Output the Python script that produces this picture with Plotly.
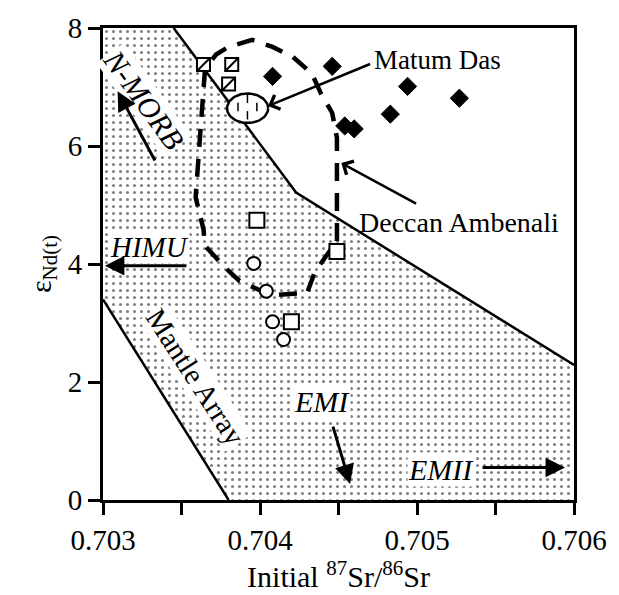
import numpy as np
import plotly.graph_objects as go

# ---------------- data ----------------
# Mantle array (stippled field) outline
mantle_x = [0.703, 0.70345, 0.70423, 0.706, 0.706, 0.7038, 0.703]
mantle_y = [8.0, 8.0, 5.21, 2.29, 0.0, 0.0, 3.4]
upper_edge_x = [0.70345, 0.70423, 0.706]
upper_edge_y = [8.0, 5.21, 2.29]
lower_edge_x = [0.703, 0.7038]
lower_edge_y = [3.4, 0.0]

# Deccan Ambenali field (dashed loop)
deccan_x = [0.70449, 0.70449, 0.70446, 0.70439, 0.70433, 0.70421, 0.70408, 0.70395,
            0.70380, 0.70372, 0.70365, 0.70364, 0.70362, 0.70359, 0.70364, 0.70365,
            0.70377, 0.70387, 0.70407, 0.70430, 0.70435, 0.70449]
deccan_y = [4.39, 6.14, 6.56, 6.88, 7.23, 7.51, 7.68, 7.80,
            7.68, 7.55, 7.31, 7.01, 6.23, 5.13, 4.59, 4.31,
            3.96, 3.71, 3.47, 3.51, 3.87, 4.39]

# Matum Das field (ellipse): centre and semi-axes
matum_center = [0.703921, 6.64]
matum_semi_axes = [0.000131, 0.25]
matum_marks_x = [0.70386, 0.70392, 0.70398, 0.70392]
matum_marks_y = [6.66, 6.80, 6.66, 6.52]

# samples
diamond_x = [0.70408, 0.70446, 0.70494, 0.70527, 0.70483, 0.70454, 0.70460]
diamond_y = [7.18, 7.35, 7.01, 6.81, 6.54, 6.34, 6.29]
slash_sq_x = [0.70364, 0.70382, 0.70380]
slash_sq_y = [7.38, 7.38, 7.05]
open_sq_x = [0.70398, 0.70449, 0.70420]
open_sq_y = [4.74, 4.21, 3.02]
circle_x = [0.70396, 0.70404, 0.70408, 0.70415]
circle_y = [4.01, 3.54, 3.02, 2.72]

x_tickvals = [0.703, 0.7035, 0.704, 0.7045, 0.705, 0.7055, 0.706]
x_ticktext = ["0.703", "", "0.704", "", "0.705", "", "0.706"]
y_tickvals = [0, 2, 4, 6, 8]
y_ticktext = ["0", "2", "4", "6", "8"]

FONT = "Liberation Serif"

fig = go.Figure()

# stippled mantle array
fig.add_trace(go.Scatter(
    x=mantle_x, y=mantle_y, mode="lines", fill="toself",
    line=dict(width=0, color="rgba(0,0,0,0)"),
    fillcolor="white",
    fillpattern=dict(shape=".", fgcolor="black", bgcolor="white", size=7, solidity=0.15),
    hoverinfo="skip", showlegend=False))
for ex, ey in [(upper_edge_x, upper_edge_y), (lower_edge_x, lower_edge_y)]:
    fig.add_trace(go.Scatter(x=ex, y=ey, mode="lines",
                             line=dict(color="black", width=2.5),
                             hoverinfo="skip", showlegend=False))

# dashed Deccan Ambenali field
fig.add_trace(go.Scatter(x=deccan_x, y=deccan_y, mode="lines",
                         line=dict(color="black", width=4.5, dash="18px,12px"),
                         hoverinfo="skip", showlegend=False))

# Matum Das ellipse
theta = np.linspace(0, 2 * np.pi, 80)
ell_x = matum_center[0] + matum_semi_axes[0] * np.cos(theta)
ell_y = matum_center[1] + matum_semi_axes[1] * np.sin(theta)
fig.add_trace(go.Scatter(x=ell_x, y=ell_y, mode="lines", fill="toself",
                         fillcolor="white", line=dict(color="black", width=2.5),
                         hoverinfo="skip", showlegend=False))
fig.add_trace(go.Scatter(x=matum_marks_x, y=matum_marks_y, mode="markers",
                         marker=dict(symbol="line-ns", size=6,
                                     line=dict(color="black", width=1.5)),
                         hoverinfo="skip", showlegend=False))

# samples
fig.add_trace(go.Scatter(x=circle_x, y=circle_y, mode="markers",
                         marker=dict(symbol="circle", size=13, color="white",
                                     line=dict(color="black", width=2)),
                         showlegend=False))
fig.add_trace(go.Scatter(x=open_sq_x, y=open_sq_y, mode="markers",
                         marker=dict(symbol="square", size=15, color="white",
                                     line=dict(color="black", width=2)),
                         showlegend=False))
fig.add_trace(go.Scatter(x=slash_sq_x, y=slash_sq_y, mode="markers",
                         marker=dict(symbol="square", size=13, color="white",
                                     line=dict(color="black", width=2)),
                         showlegend=False))
fig.add_trace(go.Scatter(x=slash_sq_x, y=slash_sq_y, mode="markers",
                         marker=dict(symbol="line-ne", size=13,
                                     line=dict(color="black", width=2)),
                         showlegend=False))
fig.add_trace(go.Scatter(x=diamond_x, y=diamond_y, mode="markers",
                         marker=dict(symbol="diamond", size=14, color="black",
                                     line=dict(color="black", width=1)),
                         showlegend=False))

ann = []
def label(text, x, y, angle=0, bg=None, size=28):
    d = dict(text=text, x=x, y=y, xref="x", yref="y", showarrow=False,
             textangle=angle, font=dict(family=FONT, size=size, color="black"),
             borderpad=0)
    if bg:
        d["bgcolor"] = bg
    ann.append(d)

def arrow(x0, y0, x1, y1, head=2, width=3, asize=1.3):
    ann.append(dict(text="", x=x1, y=y1, ax=x0, ay=y0, xref="x", yref="y",
                    axref="x", ayref="y", showarrow=True, arrowhead=head,
                    arrowwidth=width, arrowsize=asize, arrowcolor="black",
                    standoff=0, startstandoff=0))

label("Matum Das", 0.70513, 7.46, size=27)
arrow(0.704711, 7.40, 0.704052, 6.68, head=4, width=2.5, asize=1.2)
label("Deccan Ambenali", 0.70527, 4.71, size=28)
arrow(0.705004, 5.01, 0.704518, 5.71, head=4, width=2.5, asize=1.2)
label("<i>N-MORB</i>", 0.703261, 6.79, angle=54, bg="white", size=30)
arrow(0.703336, 5.73, 0.703093, 6.93)
label("<i>HIMU</i>", 0.703299, 4.29, bg="white", size=29)
arrow(0.703541, 3.97, 0.703012, 3.97)
label("Mantle Array", 0.703591, 2.09, angle=57, bg="white", size=29)
label("<i>EMI</i>", 0.704394, 1.67, bg="white", size=30)
arrow(0.704462, 1.27, 0.704574, 0.27)
label("<i>EMII</i>", 0.705153, 0.52, bg="white", size=30)
arrow(0.705408, 0.55, 0.705943, 0.55)

fig.update_layout(
    width=619, height=595,
    margin=dict(l=103, r=34, t=21, b=95),
    paper_bgcolor="white", plot_bgcolor="white",
    font=dict(family=FONT, color="black"),
    annotations=ann,
    xaxis=dict(range=[0.703, 0.706], tickvals=x_tickvals, ticktext=x_ticktext,
               showgrid=False, zeroline=False, showline=True, mirror=True,
               linecolor="black", linewidth=3, ticks="outside", ticklen=12,
               tickwidth=2.5, tickcolor="black",
               tickfont=dict(family=FONT, size=29, color="black"),
               title=dict(text="Initial <sup>87</sup>Sr/<sup>86</sup>Sr",
                          font=dict(family=FONT, size=30, color="black"),
                          standoff=6)),
    yaxis=dict(range=[0, 8], tickvals=y_tickvals, ticktext=y_ticktext,
               showgrid=False, zeroline=False, showline=True, mirror=True,
               linecolor="black", linewidth=3, ticks="outside", ticklen=12,
               tickwidth=2.5, tickcolor="black",
               tickfont=dict(family=FONT, size=29, color="black"),
               title=dict(text="ε<sub>Nd(t)</sub>",
                          font=dict(family=FONT, size=30, color="black"),
                          standoff=8)),
)

fig.write_html("out.html")
